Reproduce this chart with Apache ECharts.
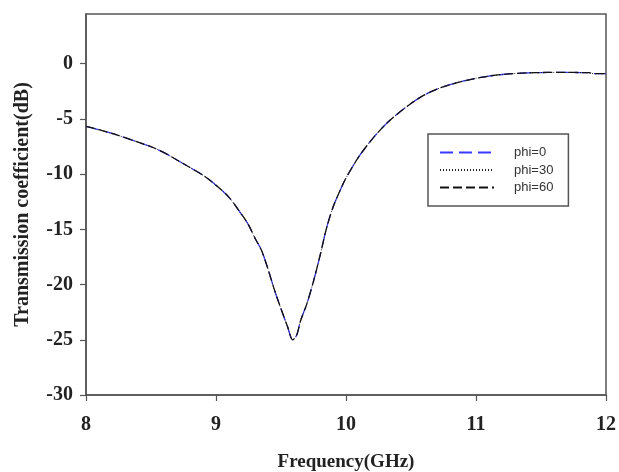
<!DOCTYPE html>
<html>
<head>
<meta charset="utf-8">
<script src="https://cdn.jsdelivr.net/npm/echarts@6/dist/echarts.min.js"></script>
<style>
html,body{margin:0;padding:0;background:#fff;}
#chart{width:619px;height:472px;}
</style>
</head>
<body>
<div id="chart"></div>
<script>
// Frequency (GHz)
var freq = [8.0, 8.1, 8.2, 8.3, 8.4, 8.5, 8.6, 8.7, 8.8, 8.9, 9.0, 9.1, 9.2, 9.25, 9.3, 9.35, 9.4, 9.45, 9.5, 9.55, 9.59, 9.62, 9.65, 9.7, 9.75, 9.8, 9.85, 9.9, 9.95, 10.0, 10.1, 10.2, 10.3, 10.4, 10.5, 10.6, 10.7, 10.8, 10.9, 11.0, 11.1, 11.2, 11.3, 11.4, 11.5, 11.6, 11.7, 11.8, 11.87, 11.9, 12.0];
// Transmission coefficient (dB)
var phi0  = [-5.67, -5.98, -6.32, -6.70, -7.10, -7.52, -8.05, -8.72, -9.40, -10.10, -11.0, -12.1, -13.7, -14.6, -15.8, -16.9, -18.6, -20.5, -22.2, -23.8, -25.0, -24.6, -23.3, -21.7, -19.7, -17.4, -14.9, -13.0, -11.6, -10.35, -8.4, -6.85, -5.55, -4.5, -3.6, -2.85, -2.3, -1.9, -1.58, -1.32, -1.12, -0.98, -0.89, -0.83, -0.80, -0.79, -0.79, -0.80, -0.81, -0.90, -0.90];
var phi30 = [-5.67, -5.98, -6.32, -6.70, -7.10, -7.52, -8.05, -8.72, -9.40, -10.10, -11.0, -12.1, -13.7, -14.6, -15.8, -16.9, -18.6, -20.5, -22.2, -23.8, -25.0, -24.6, -23.3, -21.7, -19.7, -17.4, -14.9, -13.0, -11.6, -10.35, -8.4, -6.85, -5.55, -4.5, -3.6, -2.85, -2.3, -1.9, -1.58, -1.32, -1.12, -0.98, -0.89, -0.83, -0.80, -0.79, -0.79, -0.80, -0.81, -0.90, -0.90];
var phi60 = [-5.67, -5.98, -6.32, -6.70, -7.10, -7.52, -8.05, -8.72, -9.40, -10.10, -11.0, -12.1, -13.7, -14.6, -15.8, -16.9, -18.6, -20.5, -22.2, -23.8, -25.0, -24.6, -23.3, -21.7, -19.7, -17.4, -14.9, -13.0, -11.6, -10.35, -8.4, -6.85, -5.55, -4.5, -3.6, -2.85, -2.3, -1.9, -1.58, -1.32, -1.12, -0.98, -0.89, -0.83, -0.80, -0.79, -0.79, -0.80, -0.81, -0.90, -0.90];
var seriesNames = ['phi=0', 'phi=30', 'phi=60'];
var xTicks = [8, 9, 10, 11, 12];
var yTicks = [-30, -25, -20, -15, -10, -5, 0];

function pairs(vals) {
  return freq.map(function (f, i) { return [f, vals[i]]; });
}

var chart = echarts.init(document.getElementById('chart'), null, {renderer: 'canvas'});
var axisFont = {fontFamily: 'Liberation Serif', fontWeight: 'bold', fontSize: 20, color: '#222'};
var option = {
  animation: false,
  backgroundColor: '#ffffff',
  grid: {left: 86, right: 13, top: 14, bottom: 77, show: true, borderColor: '#555', borderWidth: 1.5, backgroundColor: 'transparent', outerBoundsMode: 'none', containLabel: false},
  legend: {
    orient: 'vertical',
    left: 428, top: 134,
    padding: [12, 15, 12, 11],
    itemWidth: 54, itemHeight: 14, itemGap: 4.5,
    borderColor: '#555', borderWidth: 1.5,
    backgroundColor: '#fff',
    itemStyle: {color: 'rgba(0,0,0,0)', borderWidth: 0, opacity: 0},
    textStyle: {fontFamily: 'Liberation Sans', fontSize: 13, color: '#333', padding: [0, 0, 0, 15]},
    data: seriesNames
  },
  xAxis: {
    type: 'value', min: 8, max: 12, interval: 1,
    axisLine: {show: true, onZero: false, lineStyle: {color: '#555', width: 1.5}},
    axisTick: {show: true, inside: false, length: 6, lineStyle: {color: '#555', width: 1.2}, customValues: xTicks},
    axisLabel: Object.assign({margin: 20, customValues: xTicks}, axisFont),
    splitLine: {show: false},
    name: 'Frequency(GHz)', nameLocation: 'middle', nameGap: 58,
    nameTextStyle: {fontFamily: 'Liberation Serif', fontWeight: 'bold', fontSize: 19, color: '#222'}
  },
  yAxis: {
    type: 'value', min: -30, max: 4.5, interval: 5,
    axisLine: {show: true, onZero: false, lineStyle: {color: '#555', width: 1.5}},
    axisTick: {show: true, inside: false, length: 6, lineStyle: {color: '#555', width: 1.2}, customValues: yTicks},
    axisLabel: Object.assign({margin: 13, customValues: yTicks}, axisFont),
    splitLine: {show: false},
    name: 'Transmission coefficient(dB)', nameLocation: 'middle', nameGap: 53,
    nameTextStyle: {fontFamily: 'Liberation Serif', fontWeight: 'bold', fontSize: 20, color: '#222'}
  },
  series: [
    {name: seriesNames[0], type: 'line', data: pairs(phi0), symbol: 'none', smooth: 0.3,
     lineStyle: {color: '#3a3aff', width: 1.3, type: [13, 6]}, itemStyle: {color: '#3a3aff'}},
    {name: seriesNames[1], type: 'line', data: pairs(phi30), symbol: 'none', smooth: 0.3,
     lineStyle: {color: '#222', width: 1, type: [1, 2]}, itemStyle: {color: '#222'}},
    {name: seriesNames[2], type: 'line', data: pairs(phi60), symbol: 'none', smooth: 0.3,
     lineStyle: {color: '#111', width: 1.3, type: [9, 4]}, itemStyle: {color: '#111'}}
  ]
};
chart.setOption(option);
</script>
</body>
</html>
